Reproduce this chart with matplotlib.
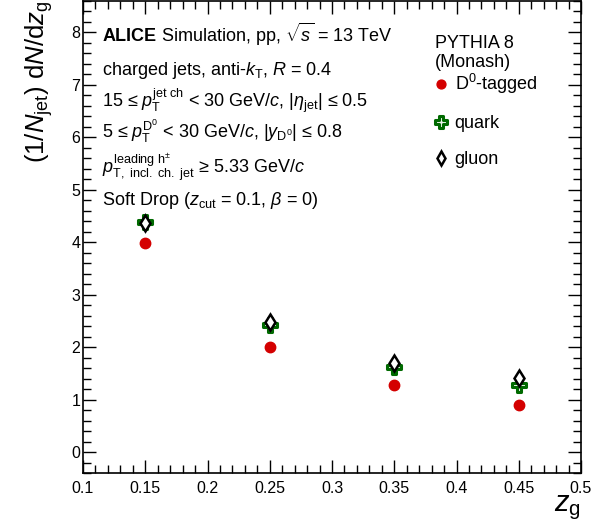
import numpy as np
import matplotlib.pyplot as plt
from matplotlib.path import Path
from matplotlib.ticker import MultipleLocator

plt.rcParams['font.family'] = ['Liberation Sans', 'DejaVu Sans']
plt.rcParams['mathtext.fontset'] = 'custom'
plt.rcParams['mathtext.rm'] = 'Liberation Sans'
plt.rcParams['mathtext.it'] = 'Liberation Sans:italic'
plt.rcParams['mathtext.bf'] = 'Liberation Sans:bold'

# z_g bin centres and normalised distributions
zg = [0.15, 0.25, 0.35, 0.45]
d0_tagged = [3.99, 2.01, 1.28, 0.90]
quark = [4.38, 2.42, 1.63, 1.28]
gluon = [4.37, 2.47, 1.69, 1.41]

# open cross marker (ROOT style 28)
a = 0.34
cross = Path([(-a, 1), (a, 1), (a, a), (1, a), (1, -a), (a, -a), (a, -1),
              (-a, -1), (-a, -a), (-1, -a), (-1, a), (-a, a), (-a, 1)],
             closed=True)

fig = plt.figure(figsize=(5.95, 5.31), dpi=100)
ax = fig.add_axes([83 / 595, 58 / 531, 498 / 595, 472 / 531])

red = '#d40000'
green = '#006a00'
h_d0, = ax.plot(zg, d0_tagged, ls='none', marker='o', ms=7.5,
                color=red, mec=red)
h_q, = ax.plot(zg, quark, ls='none', marker=cross, ms=9.5, mfc='#e8f4e8',
               mec=green, mew=2.2)
h_g, = ax.plot(zg, gluon, ls='none', marker='d', ms=8, mfc='white',
               mec='black', mew=1.8)

ax.set_xlim(0.1, 0.5)
ax.set_ylim(-0.4, 8.6)
ax.xaxis.set_major_locator(MultipleLocator(0.05))
ax.xaxis.set_minor_locator(MultipleLocator(0.01))
ax.yaxis.set_major_locator(MultipleLocator(1))
ax.yaxis.set_minor_locator(MultipleLocator(0.2))
ax.set_xticks(np.arange(0.1, 0.51, 0.05))
ax.set_xticklabels(['0.1', '0.15', '0.2', '0.25', '0.3', '0.35', '0.4',
                    '0.45', '0.5'])
ax.tick_params(which='both', direction='in', top=True, right=True,
               labelsize=11.5, width=1)
ax.tick_params(which='major', length=9.5)
ax.tick_params(which='minor', length=5.5)
ax.tick_params(axis='y', pad=2)
ax.tick_params(axis='x', pad=6)
for s in ax.spines.values():
    s.set_linewidth(1.2)

ax.set_ylabel(r'(1/$N_{\mathrm{jet}}$) d$N$/d$z_{\mathrm{g}}$', fontsize=18.5,
              loc='top', labelpad=12)
ax.set_xlabel(r'$z_{\mathrm{g}}$', fontsize=21, loc='right', labelpad=-2)


def axy(ypix):
    return (473 - ypix) / 472


def axx(xpix):
    return (xpix - 83) / 498


lines = [
    (42, r'$\mathbf{ALICE}$ Simulation, pp, $\sqrt{s}$ = 13 TeV'),
    (75, r'charged jets, anti-$k_{\mathrm{T}}$, $R$ = 0.4'),
    (107, r'15 ≤ $p_{\mathrm{T}}^{\mathrm{jet\ ch}}$ < 30 GeV/$c$, '
          r'|$\eta_{\mathrm{jet}}$| ≤ 0.5'),
    (138, r'5 ≤ $p_{\mathrm{T}}^{\mathrm{D^0}}$ < 30 GeV/$c$, '
          r'|$y_{\mathrm{D^0}}$| ≤ 0.8'),
    (173, r'$p_{\mathrm{T,\ incl.\ ch.\ jet}}^{\mathrm{leading\ h^{\pm}}}$'
          r' ≥ 5.33 GeV/$c$'),
    (205, r'Soft Drop ($z_{\mathrm{cut}}$ = 0.1, $\beta$ = 0)'),
]
for yp, txt in lines:
    ax.text(axx(102), axy(yp), txt, transform=ax.transAxes, fontsize=13,
            va='baseline', ha='left')

ax.text(axx(435), axy(48), 'PYTHIA 8', transform=ax.transAxes,
        fontsize=13, va='baseline')
ax.text(axx(435), axy(67), '(Monash)', transform=ax.transAxes,
        fontsize=13, va='baseline')

ax.legend([h_d0, h_q, h_g], [r'D$^0$-tagged', 'quark', 'gluon'],
          loc='upper left', bbox_to_anchor=(axx(433), axy(72)),
          frameon=False, fontsize=13, handlelength=0.9, handletextpad=0.3,
          labelspacing=1.05, borderpad=0, borderaxespad=0, markerscale=0.85)

fig.savefig('out.png', dpi=100)
